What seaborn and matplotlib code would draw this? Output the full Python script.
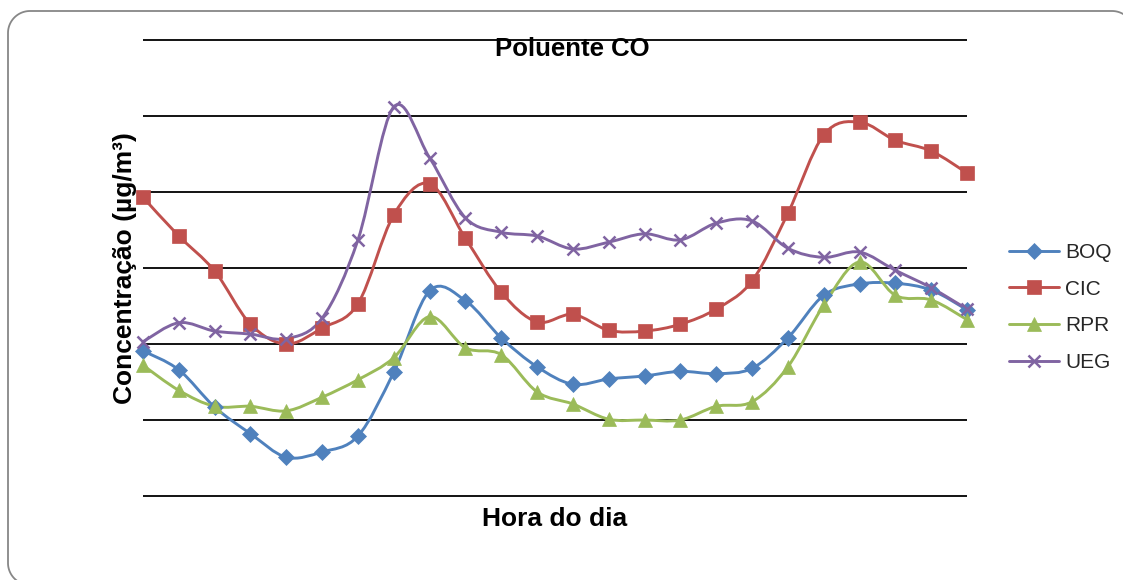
import numpy as np
import pandas as pd
import matplotlib
matplotlib.use("Agg")
import matplotlib.pyplot as plt
from matplotlib.path import Path
from matplotlib.patches import PathPatch
from matplotlib.lines import Line2D
import seaborn as sns

# Hourly CO concentration per monitoring station
hours = list(range(24))
stations = ["BOQ", "CIC", "RPR", "UEG"]

boq = [1.91, 1.66, 1.17, 0.82, 0.51, 0.58, 0.79, 1.63, 2.70, 2.57, 2.08, 1.70,
       1.47, 1.54, 1.58, 1.64, 1.61, 1.68, 2.08, 2.64, 2.79, 2.80, 2.71, 2.45]
cic = [3.93, 3.42, 2.96, 2.26, 2.00, 2.21, 2.53, 3.70, 4.11, 3.39, 2.68, 2.29,
       2.39, 2.18, 2.17, 2.26, 2.46, 2.83, 3.72, 4.75, 4.92, 4.68, 4.54, 4.25]
rpr = [1.72, 1.39, 1.18, 1.18, 1.12, 1.30, 1.53, 1.82, 2.36, 1.95, 1.86, 1.37,
       1.21, 1.01, 1.00, 1.00, 1.18, 1.24, 1.70, 2.51, 3.08, 2.64, 2.58, 2.32]
ueg = [2.03, 2.28, 2.17, 2.13, 2.07, 2.34, 3.37, 5.12, 4.45, 3.66, 3.47, 3.42,
       3.25, 3.34, 3.45, 3.37, 3.59, 3.62, 3.26, 3.14, 3.21, 2.97, 2.74, 2.46]

grid_levels = [0, 1, 2, 3, 4, 5, 6]

colors = {"BOQ": "#4F81BD", "CIC": "#C0504D", "RPR": "#9BBB59", "UEG": "#8064A2"}
markers = {"BOQ": "D", "CIC": "s", "RPR": "^", "UEG": "x"}
msizes = {"BOQ": 7.8, "CIC": 9.5, "RPR": 10.5, "UEG": 9}

df = pd.DataFrame({"hora": hours * 4,
                   "valor": boq + cic + rpr + ueg,
                   "estacao": np.repeat(stations, len(hours))})

sns.set_theme(style="white")
plt.rcParams["font.family"] = ["Liberation Sans", "DejaVu Sans"]

W, H = 1123, 580
fig = plt.figure(figsize=(W / 100, H / 100), dpi=100)
ax = fig.add_axes([143 / W, 1 - 496 / H, (967 - 143) / W, (496 - 40) / H])
ax.set_xlim(0, 23)
ax.set_ylim(0, 6)
for s in ax.spines.values():
    s.set_visible(False)
ax.set_xticks([])
ax.set_yticks([])

# horizontal gridlines
ax.hlines(grid_levels, 0, 23, colors="black", linewidth=1.3, clip_on=False, zorder=1)


def smooth_path(x, y):
    """Cubic Bezier path through all points (Catmull-Rom style tangents)."""
    pts = np.column_stack([x, y]).astype(float)
    n = len(pts)
    verts = [pts[0]]
    codes = [Path.MOVETO]
    for i in range(n - 1):
        p0 = pts[i - 1] if i > 0 else pts[i]
        p1 = pts[i]
        p2 = pts[i + 1]
        p3 = pts[i + 2] if i + 2 < n else pts[i + 1]
        c1 = p1 + (p2 - p0) / 6.0
        c2 = p2 - (p3 - p1) / 6.0
        verts += [c1, c2, p2]
        codes += [Path.CURVE4] * 3
    return Path(verts, codes)


for name in stations:
    sub = df[df["estacao"] == name]
    patch = PathPatch(smooth_path(sub["hora"].values, sub["valor"].values),
                      facecolor="none", edgecolor=colors[name], linewidth=2.1,
                      transform=ax.transData, clip_on=False, zorder=3,
                      capstyle="round", joinstyle="round")
    ax.add_patch(patch)

for name in stations:
    sub = df[df["estacao"] == name]
    mk = markers[name]
    kw = dict(marker=mk, markersize=msizes[name], linestyle="", color=colors[name],
              markeredgecolor=colors[name])
    if mk == "x":
        kw["markeredgewidth"] = 1.8
    else:
        kw["markeredgewidth"] = 0.5
    sns.lineplot(data=sub, x="hora", y="valor", ax=ax, legend=False,
                 errorbar=None, zorder=4, clip_on=False, **kw)

ax.set_xlabel("")
ax.set_ylabel("")

fig.text(572 / W, 1 - 49 / H, "Poluente CO", ha="center", va="center",
         fontsize=18.5, fontweight="bold", color="black", zorder=10)
fig.text(125 / W, 1 - 268 / H, "Concentração (µg/m³)", ha="center", va="center",
         rotation=90, fontsize=19, fontweight="bold", color="black")
fig.text(555 / W, 1 - 519 / H, "Hora do dia", ha="center", va="center",
         fontsize=19, fontweight="bold", color="black")

handles = []
for name in stations:
    mk = markers[name]
    handles.append(Line2D([0], [0], color=colors[name], linewidth=2.1, marker=mk,
                          markersize=msizes[name], markerfacecolor=colors[name],
                          markeredgecolor=colors[name],
                          markeredgewidth=1.8 if mk == "x" else 0.5))
fig.legend(handles, stations, loc="center left",
           bbox_to_anchor=(1009 / W, 1 - 307.5 / H),
           frameon=False, fontsize=15, handlelength=2.4, handletextpad=0.3,
           labelspacing=0.85, borderpad=0, borderaxespad=0)


def arc(cx, cy, r, a0, a1, n=24):
    t = np.radians(np.linspace(a0, a1, n))
    return list(zip(cx + r * np.cos(t), cy - r * np.sin(t)))


# rounded outer frame (pixel units, origin top-left); only the parts inside
# the canvas are drawn: bottom-left corner, left edge, top edge, top-right corner
left, top, right, bottom, r = 8, 11, 1134, 585, 22
pts = (arc(left + r, bottom - r, r, 240, 180)
       + arc(left + r, top + r, r, 180, 90)
       + arc(right - r, top + r, r, 90, 55))
pts = [(x / W, 1 - y / H) for x, y in pts]
fig.add_artist(Line2D([p[0] for p in pts], [p[1] for p in pts],
                      transform=fig.transFigure, color="#878787", linewidth=1.3,
                      solid_capstyle="butt"))

fig.savefig("out.png", dpi=100, facecolor="white")
